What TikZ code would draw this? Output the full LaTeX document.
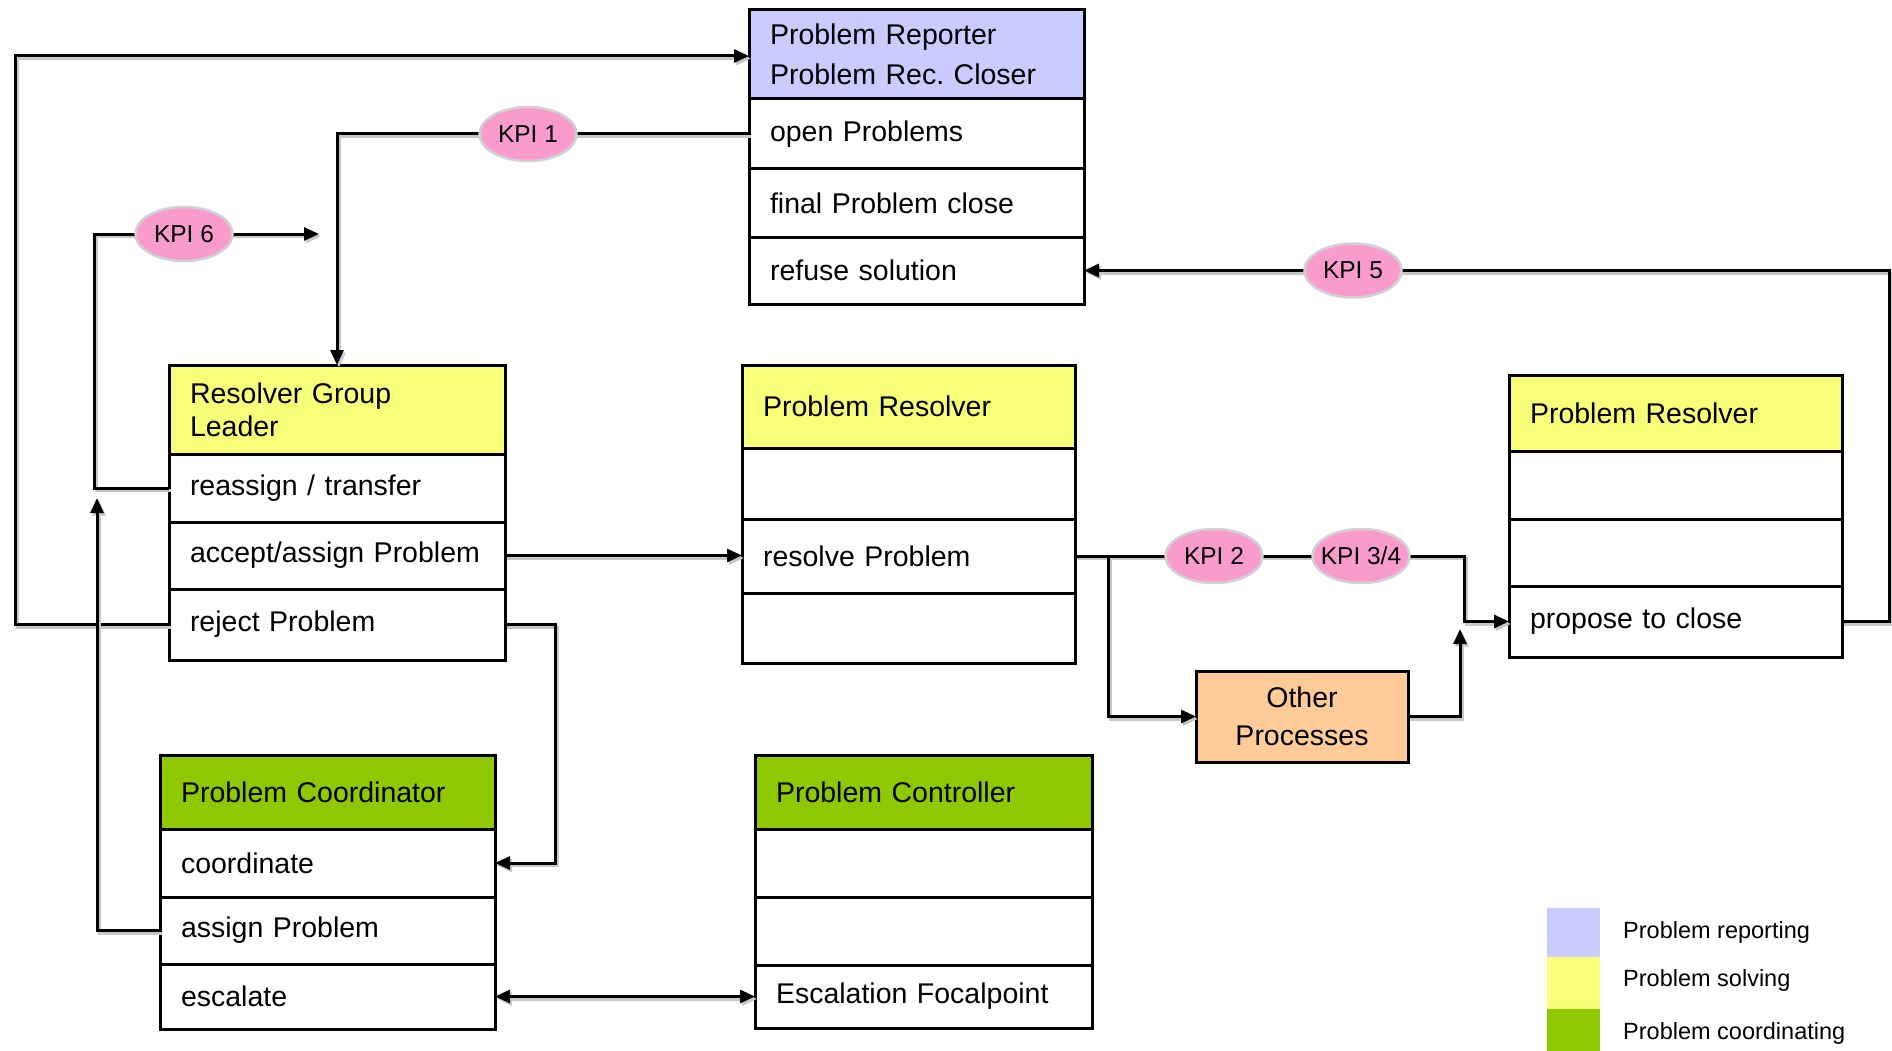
\documentclass[tikz,border=0pt]{standalone}
\usepackage{fontspec}
\setmainfont{Liberation Sans}
\usetikzlibrary{arrows.meta,shapes.geometric,calc}
\definecolor{repblue}{RGB}{200,204,255}
\definecolor{solyellow}{RGB}{248,255,120}
\definecolor{coordgreen}{RGB}{142,200,0}
\definecolor{kpipink}{RGB}{250,155,205}
\definecolor{otherorange}{RGB}{255,204,153}
\newcommand{\kpitext}[1]{\makebox[0pt][c]{#1}}
\tikzset{
 cell/.style={draw=black, line width=3pt, anchor=north west, outer sep=0pt, inner xsep=21pt, inner ysep=0pt, align=left, font=\fontsize{28.5}{33}\selectfont},
 conn/.style={line width=3pt, draw=black, preaction={draw=black!22, line width=3pt, transform canvas={shift={(2pt,-2.5pt)}}}},
 arr/.style={-{Triangle[length=15pt,width=13pt]}},
 kpi/.style={ellipse, fill=kpipink, draw=black!18, line width=2.5pt, minimum width=97pt, minimum height=54pt, inner sep=0pt, font=\fontsize{24.5}{26}\selectfont},
 swatch/.style={anchor=north west, inner sep=0pt, outer sep=0pt, minimum width=53pt},
 legtext/.style={anchor=west, inner sep=0pt, font=\fontsize{23.5}{26}\selectfont},
}
\begin{document}
\frenchspacing
\begin{tikzpicture}[x=1pt,y=-1pt]
\fill[white] (0,0) rectangle (1892,1051);
\useasboundingbox (0,0) rectangle (1892,1051);

% Problem Reporter
\node[cell, fill=repblue, text width=293pt, minimum height=89pt] (rep) at (749,10) {Problem Reporter\\[7pt]Problem Rec.\ Closer};
\node[cell, text width=293pt, minimum height=70pt] (open) at (749,99) {open Problems};
\node[cell, text width=293pt, minimum height=68pt] (final) at (749,169) {final Problem close};
\node[cell, text width=293pt, minimum height=67pt] (refuse) at (749,237) {refuse solution};

% Resolver Group Leader
\node[cell, fill=solyellow, text width=294pt, minimum height=89pt] (rgl) at (169,365) {Resolver Group\\Leader};
\node[cell, text width=294pt, minimum height=68pt] (reassign) at (169,454) {reassign / transfer};
\node[cell, text width=294pt, minimum height=67pt] (accept) at (169,522) {accept/assign Problem};
\node[cell, text width=294pt, minimum height=71pt] (reject) at (169,589) {reject Problem};

% Problem Resolver (middle)
\node[cell, fill=solyellow, text width=291pt, minimum height=83pt] (pra) at (742,365) {Problem Resolver};
\node[cell, text width=291pt, minimum height=71pt] (prb) at (742,448) {};
\node[cell, text width=291pt, minimum height=74pt] (resolve) at (742,519) {resolve Problem};
\node[cell, text width=291pt, minimum height=70pt] (prd) at (742,593) {};

% Problem Resolver (right)
\node[cell, fill=solyellow, text width=291pt, minimum height=76pt] (pr2a) at (1509,375) {Problem Resolver};
\node[cell, text width=291pt, minimum height=68pt] (pr2b) at (1509,451) {};
\node[cell, text width=291pt, minimum height=67pt] (pr2c) at (1509,519) {};
\node[cell, text width=291pt, minimum height=71pt] (propose) at (1509,586) {propose to close};

% Problem Coordinator
\node[cell, fill=coordgreen, text width=293pt, minimum height=74pt] (pc) at (160,755) {Problem Coordinator};
\node[cell, text width=293pt, minimum height=68pt] (coordinate) at (160,829) {coordinate};
\node[cell, text width=293pt, minimum height=67pt] (assign) at (160,897) {assign Problem};
\node[cell, text width=293pt, minimum height=65pt] (escalate) at (160,964) {escalate};

% Problem Controller
\node[cell, fill=coordgreen, text width=295pt, minimum height=74pt] (pctl) at (755,755) {Problem Controller};
\node[cell, text width=295pt, minimum height=68pt] (pctlb) at (755,829) {};
\node[cell, text width=295pt, minimum height=68pt] (pctlc) at (755,897) {};
\node[cell, text width=295pt, minimum height=63pt] (focal) at (755,965) {Escalation Focalpoint};

% Other Processes
\node[cell, fill=otherorange, align=center, text width=170pt, minimum height=91pt] (other) at (1196,671) {Other\\[5pt]Processes};

% helper coordinates
\coordinate (L1) at (15,0);
\coordinate (K6c) at (94,234);
\coordinate (K6e) at (319,234);
\coordinate (A6e) at (97,498);
\coordinate (RJ) at (555,0);
\coordinate (R5) at (1889,0);
\coordinate (J2) at (1464,0);
\coordinate (B2) at (1108,0);
\coordinate (OE) at (1460,629);

% connectors
\draw[conn,arr] (reject.west) -- (reject.west -| L1) |- ([yshift=-1.5pt]rep.west);
\draw[conn,arr] (open.west) -| (rgl.north);
\draw[conn,arr] (reassign.west) -| (K6c) -- (K6e);
\draw[conn,arr] (assign.west) -| (A6e);
\draw[conn,arr] (accept.east) -- (accept.east -| resolve.west);
\draw[conn,arr] (reject.east) -- (reject.east -| RJ) |- (coordinate.east);
\draw[conn,{Triangle[length=15pt,width=13pt]}-{Triangle[length=15pt,width=13pt]}] (escalate.east) -- (focal.west);
\draw[conn,arr] (propose.east) -- (propose.east -| R5) |- (refuse.east);
\draw[conn,arr] (resolve.east) -- (resolve.east -| J2) |- (propose.west);
\draw[conn,arr] (resolve.east -| B2) |- (other.west);
\draw[conn,arr] (other.east) -| (OE);

% KPI labels
\node[kpi] (kpi1) at (528,134) {\kpitext{KPI 1}};
\node[kpi] (kpi6) at (184,234) {\kpitext{KPI 6}};
\node[kpi] (kpi5) at (1353,270.5) {\kpitext{KPI 5}};
\node[kpi] (kpi2) at (1214,556) {\kpitext{KPI 2}};
\node[kpi] (kpi34) at (1361,556) {\kpitext{KPI 3/4}};

% legend
\node[swatch, fill=repblue, minimum height=49pt] (lg1) at (1547,908) {};
\node[swatch, fill=solyellow, minimum height=52pt] (lg2) at (1547,957) {};
\node[swatch, fill=coordgreen, minimum height=42pt] (lg3) at (1547,1009) {};
\node[legtext] (lt1) at (1623,932) {Problem reporting};
\node[legtext] (lt2) at (1623,980) {Problem solving};
\node[legtext] (lt3) at (1623,1033) {Problem coordinating};
\end{tikzpicture}
\end{document}
